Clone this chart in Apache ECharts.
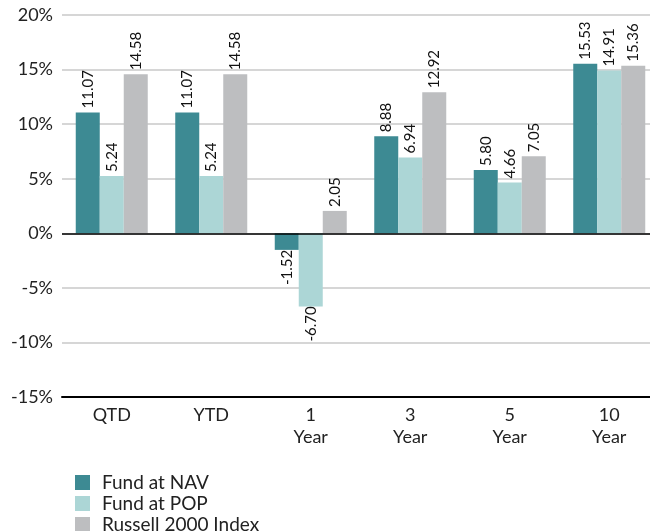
<!DOCTYPE html>
<html><head><meta charset="utf-8">
<script src="https://cdn.jsdelivr.net/npm/echarts@6/dist/echarts.min.js"></script>
<style>html,body{margin:0;padding:0;background:#fff}#c{width:650px;height:531px}</style>
</head><body><div id="c"></div>
<script>
const categories = ['QTD', 'YTD', '1\nYear', '3\nYear', '5\nYear', '10\nYear'];
const fundNAV = [11.07, 11.07, -1.52, 8.88, 5.80, 15.53];
const fundPOP = [5.24, 5.24, -6.70, 6.94, 4.66, 14.91];
const russell = [14.58, 14.58, 2.05, 12.92, 7.05, 15.36];
const seriesNames = ['Fund at NAV', 'Fund at POP', 'Russell 2000 Index'];
const colors = ['#3d8a93', '#acd6d6', '#bdbec0'];
const FONT = 'Lato';

const chart = echarts.init(document.getElementById('c'), null, {renderer: 'canvas'});
function mk(name, data, color) {
  return {
    name, type: 'bar', data, barWidth: 24, barGap: '0%',
    itemStyle: {color},
    label: {
      show: true, position: 'top', rotate: 90, align: 'left', verticalAlign: 'middle',
      distance: 4, color: '#111', fontFamily: FONT, fontSize: 15,
      formatter: p => p.value.toFixed(2)
    },
    emphasis: {disabled: true}
  };
}
const series = [mk(seriesNames[0], fundNAV, colors[0]), mk(seriesNames[1], fundPOP, colors[1]), mk(seriesNames[2], russell, colors[2])];
series.forEach(s => {
  s.data = s.data.map(v => v < 0 ? {value: v, label: {position: 'bottom', align: 'right', offset: [4, 0]}} : v);
});
chart.setOption({
  animation: false,
  textStyle: {fontFamily: FONT},
  grid: {left: 62, top: 15, width: 597, height: 382, containLabel: false, outerBoundsMode: 'none'},
  legend: {
    orient: 'vertical', left: 75, top: 473, height: 80, padding: 0,
    itemWidth: 15, itemHeight: 15, itemGap: 2,
    icon: 'rect', textStyle: {fontFamily: FONT, fontSize: 19, lineHeight: 17, color: '#222', padding: [0,0,0,7]},
    data: seriesNames
  },
  xAxis: {
    type: 'category', data: categories, position: 'bottom',
    axisLine: {onZero: false, lineStyle: {color: '#000', width: 2}},
    axisTick: {show: false},
    axisLabel: {fontFamily: FONT, fontSize: 18, color: '#222', lineHeight: 22, margin: 7}
  },
  yAxis: {
    type: 'value', min: -15, max: 20, interval: 5,
    axisLine: {show: false}, axisTick: {show: false},
    axisLabel: {formatter: '{value}%', fontFamily: FONT, fontSize: 18, color: '#222', margin: 9},
    splitLine: {lineStyle: {color: '#c8c8c8', width: 1.5}}
  },
  series: series.concat([{
    type: 'line', data: [], markLine: {
      silent: true, symbol: 'none', label: {show: false},
      lineStyle: {color: '#000', width: 1.5, type: 'solid'},
      data: [{yAxis: 0}]
    }
  }])
});
</script></body></html>
